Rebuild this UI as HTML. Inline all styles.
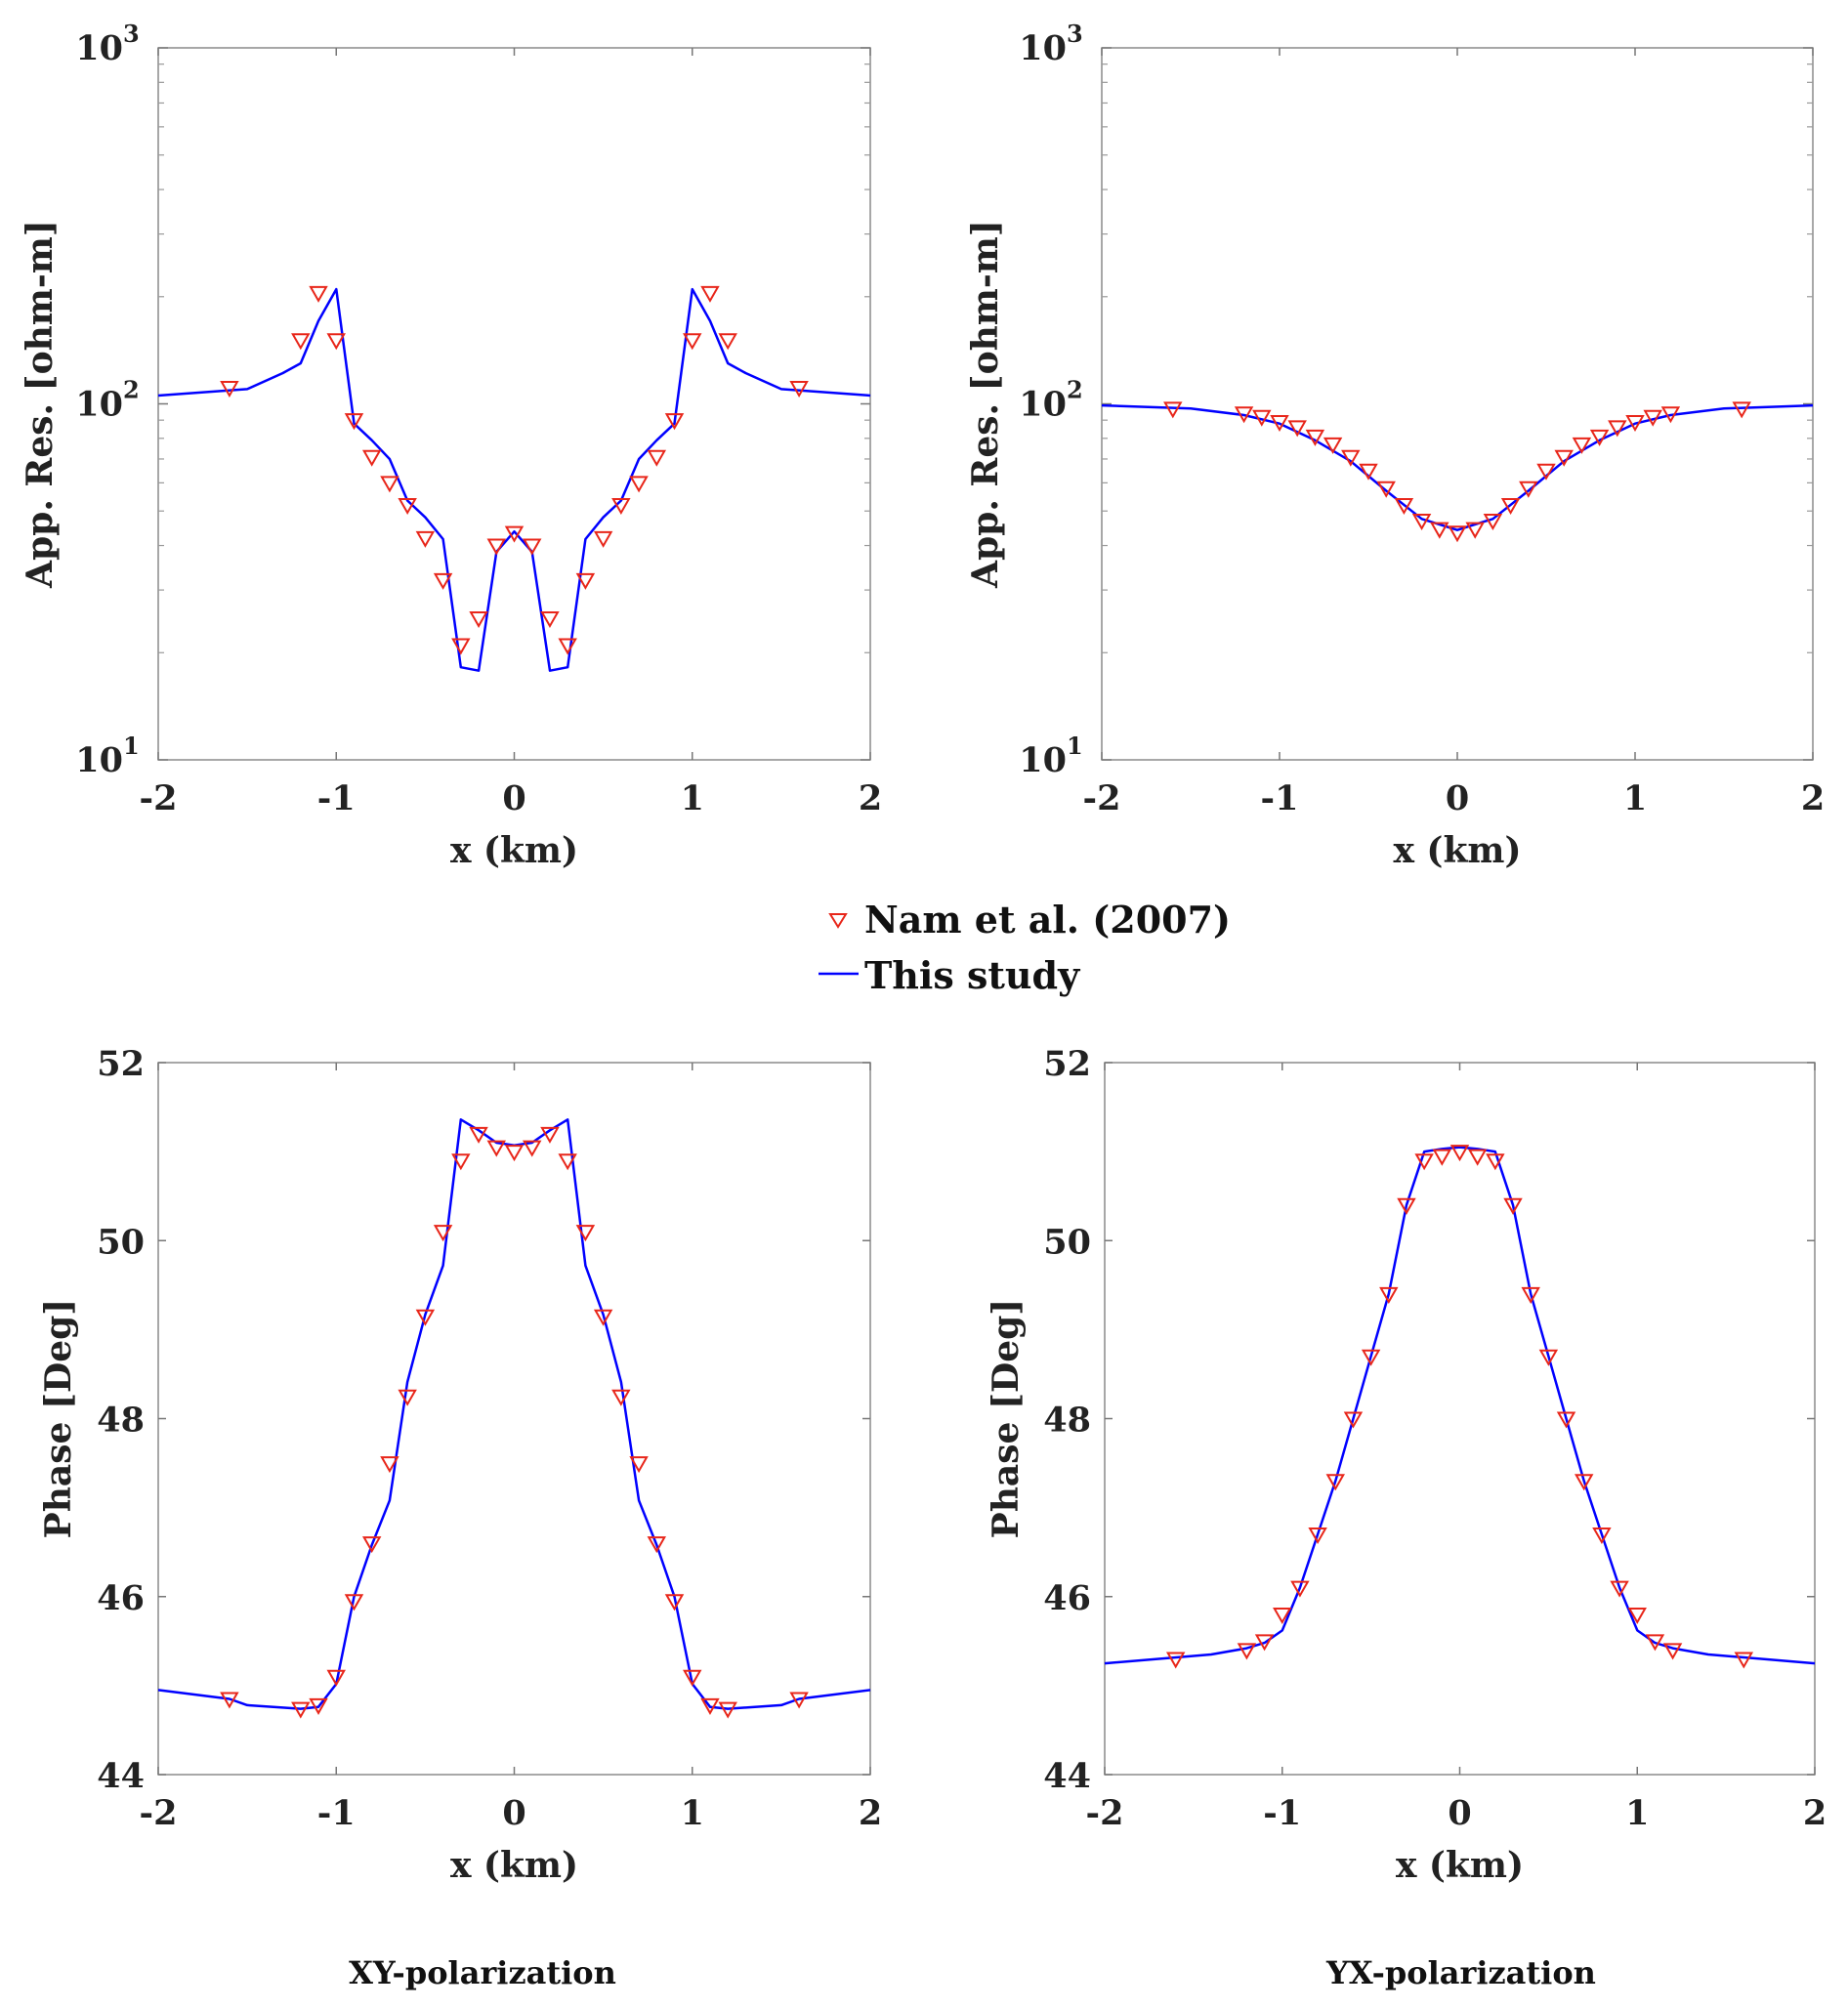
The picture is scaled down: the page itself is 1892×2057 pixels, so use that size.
<!DOCTYPE html>
<html><head><meta charset="utf-8"><style>
html,body{margin:0;padding:0;background:#fff;}
svg{display:block;font-family:"DejaVu Serif","Liberation Serif",serif;font-weight:bold;}
</style></head><body>
<svg id="fig" width="1892" height="2057" viewBox="0 0 1892 2057" xmlns="http://www.w3.org/2000/svg"></svg>
<script>
// ---- data ----
const resLineX = [-2,-1.5,-1.3,-1.2,-1.1,-1,-0.9,-0.8,-0.7,-0.6,-0.5,-0.4,-0.3,-0.2,-0.1,0,0.1,0.2,0.3,0.4,0.5,0.6,0.7,0.8,0.9,1,1.1,1.2,1.3,1.5,2];
const xyResLine = [105.5,110,122,130,171,210,88,79,70,53.5,48,41.7,18.2,17.8,38.4,43.8,38.4,17.8,18.2,41.7,48,53.5,70,79,88,210,171,130,122,110,105.5];
const markX = [-1.6,-1.2,-1.1,-1,-0.9,-0.8,-0.7,-0.6,-0.5,-0.4,-0.3,-0.2,-0.1,0,0.1,0.2,0.3,0.4,0.5,0.6,0.7,0.8,0.9,1,1.1,1.2,1.6];
const xyResMark = [111,151,205,151,90,71,60,52,42,32,21,25,40,43.4,40,25,21,32,42,52,60,71,90,151,205,151,111];
const yxLineX = [-2,-1.5,-1.2,-1,-0.8,-0.6,-0.4,-0.2,0,0.2,0.4,0.6,0.8,1,1.2,1.5,2];
const yxResLine = [99,97,93,88,79,69,57,47.5,44.2,47.5,57,69,79,88,93,97,99];
const yxResMark = [97,94,92,89,86,81,77,71,65,58,52,47,44.5,43.5,44.5,47,52,58,65,71,77,81,86,89,92,94,97];
const phLineX = [-2,-1.6,-1.5,-1.2,-1.1,-1,-0.9,-0.8,-0.7,-0.6,-0.5,-0.4,-0.3,-0.2,-0.1,0,0.1,0.2,0.3,0.4,0.5,0.6,0.7,0.8,0.9,1,1.1,1.2,1.5,1.6,2];
const xyPhLine = [44.95,44.85,44.78,44.74,44.76,45.02,46.0,46.58,47.08,48.41,49.17,49.72,51.36,51.24,51.1,51.07,51.1,51.24,51.36,49.72,49.17,48.41,47.08,46.58,46.0,45.02,44.76,44.74,44.78,44.85,44.95];
const xyPhMark = [44.85,44.74,44.78,45.1,45.95,46.6,47.5,48.25,49.15,50.1,50.9,51.2,51.05,51.0,51.05,51.2,50.9,50.1,49.15,48.25,47.5,46.6,45.95,45.1,44.78,44.74,44.85];
const yxPhLineX = [-2,-1.4,-1.2,-1.1,-1,-0.9,-0.8,-0.7,-0.6,-0.5,-0.4,-0.3,-0.2,-0.1,0,0.1,0.2,0.3,0.4,0.5,0.6,0.7,0.8,0.9,1,1.1,1.2,1.4,2];
const yxPhLine = [45.25,45.35,45.42,45.48,45.62,46.1,46.7,47.3,48.0,48.7,49.4,50.4,51.0,51.03,51.05,51.03,51.0,50.4,49.4,48.7,48.0,47.3,46.7,46.1,45.62,45.48,45.42,45.35,45.25];
const yxPhMark = [45.3,45.4,45.5,45.8,46.1,46.7,47.3,48.0,48.7,49.4,50.4,50.9,50.95,51.0,50.95,50.9,50.4,49.4,48.7,48.0,47.3,46.7,46.1,45.8,45.5,45.4,45.3];
const xTicks = [-2,-1,0,1,2];
const phTicks = [44,46,48,50,52];
const logTicks = [1,2,3];

const NS = "http://www.w3.org/2000/svg";
const svg = document.getElementById('fig');
function mk(tag, attrs, parent){
  const e = document.createElementNS(NS, tag);
  for (const k in attrs) e.setAttribute(k, attrs[k]);
  (parent||svg).appendChild(e);
  return e;
}

function panel(name, L, R, T, B, isLog, ylabel, ylabelX, lx, ly, mx, my){
  const g = mk('g', {});
  
  
  const sx = v => L + (v + 2) / 4 * (R - L);
  const sy = isLog ? (v => B - (Math.log10(v) - 1) / 2 * (B - T)) : (v => B - (v - 44) / 8 * (B - T));
  const box = mk('rect', {x:L, y:T, width:R-L, height:B-T, fill:'none', stroke:'#8a8a8a', 'stroke-width':1.5}, g);
  
  
  xTicks.forEach(t => {
    const x = sx(t);
    mk('line', {x1:x, x2:x, y1:B, y2:B-8, stroke:'#777', 'stroke-width':1.5}, g);
    mk('line', {x1:x, x2:x, y1:T, y2:T+8, stroke:'#777', 'stroke-width':1.5}, g);
    const tl = mk('text', {x:x, y:B+51, 'text-anchor':'middle', 'font-size':35, fill:'#222'}, g);
    tl.textContent = t;
    
    
  });
  const xl = mk('text', {x:(L+R)/2, y:B+105, 'text-anchor':'middle', 'font-size':36, fill:'#222'}, g);
  xl.textContent = 'x (km)';
  
  
  if (isLog) {
    logTicks.forEach(p => {
      const y = sy(Math.pow(10, p));
      mk('line', {x1:L, x2:L+10, y1:y, y2:y, stroke:'#777', 'stroke-width':1.5}, g);
      mk('line', {x1:R, x2:R-10, y1:y, y2:y, stroke:'#777', 'stroke-width':1.5}, g);
      const tl = mk('text', {x:L-52, y:y+12, 'text-anchor':'middle', 'font-size':35, fill:'#222'}, g);
      
      
      const a = mk('tspan', {}, tl); a.textContent = '10';
      const b = mk('tspan', {dy:-18, 'font-size':24}, tl); b.textContent = p;
    });
    for (let p = 1; p < 3; p++) for (let m = 2; m < 10; m++) {
      const y = sy(m * Math.pow(10, p));
      mk('line', {x1:L, x2:L+6, y1:y, y2:y, stroke:'#999', 'stroke-width':1.2}, g);
      mk('line', {x1:R, x2:R-6, y1:y, y2:y, stroke:'#999', 'stroke-width':1.2}, g);
    }
  } else {
    phTicks.forEach(t => {
      const y = sy(t);
      mk('line', {x1:L, x2:L+8, y1:y, y2:y, stroke:'#777', 'stroke-width':1.5}, g);
      mk('line', {x1:R, x2:R-8, y1:y, y2:y, stroke:'#777', 'stroke-width':1.5}, g);
      const tl = mk('text', {x:L-14, y:y+13, 'text-anchor':'end', 'font-size':35, fill:'#222'}, g);
      tl.textContent = t;
      
      
    });
  }
  const yl = mk('text', {x:0, y:0, 'text-anchor':'middle', 'font-size':36, fill:'#222', transform:`translate(${ylabelX},${(T+B)/2}) rotate(-90)`}, g);
  yl.textContent = ylabel;
  
  
  const pts = lx.map((x, i) => sx(x).toFixed(1) + ',' + sy(ly[i]).toFixed(1)).join(' ');
  const pl = mk('polyline', {points:pts, fill:'none', stroke:'#0000ff', 'stroke-width':2.5, 'stroke-linejoin':'round'}, g);
  
  
  mx.forEach((x, i) => {
    const cx = sx(x), cy = sy(my[i]);
    const m = mk('polygon', {points:`${cx-8},${cy-6} ${cx+8},${cy-6} ${cx},${cy+8}`, fill:'none', stroke:'#e8261a', 'stroke-width':2}, g);
    
    
  });
}

panel('xy-resistivity-panel', 162, 891, 49, 778, true, 'App. Res. [ohm-m]', 53, resLineX, xyResLine, markX, xyResMark);
panel('yx-resistivity-panel', 1128, 1856, 49, 778, true, 'App. Res. [ohm-m]', 1021, yxLineX, yxResLine, markX, yxResMark);
panel('xy-phase-panel', 162, 891, 1088, 1817, false, 'Phase [Deg]', 72, phLineX, xyPhLine, markX, xyPhMark);
panel('yx-phase-panel', 1131, 1858, 1088, 1817, false, 'Phase [Deg]', 1042, yxPhLineX, yxPhLine, markX, yxPhMark);

const lg = mk('g', {});


const lm = mk('polygon', {points:'850,936 866,936 858,949', fill:'none', stroke:'#e8261a', 'stroke-width':2}, lg);


const lt1 = mk('text', {x:885, y:955, 'font-size':38, fill:'#111'}, lg);
lt1.textContent = 'Nam et al. (2007)';


const ll = mk('line', {x1:838, x2:879, y1:997, y2:997, stroke:'#0000ff', 'stroke-width':2.5}, lg);


const lt2 = mk('text', {x:885, y:1012, 'font-size':38, fill:'#111'}, lg);
lt2.textContent = 'This study';



const t1 = mk('text', {x:494, y:2031, 'text-anchor':'middle', 'font-size':32, fill:'#111'});
t1.textContent = 'XY-polarization';


const t2 = mk('text', {x:1496, y:2031, 'text-anchor':'middle', 'font-size':32, fill:'#111'});
t2.textContent = 'YX-polarization';


</script>
</body></html>
